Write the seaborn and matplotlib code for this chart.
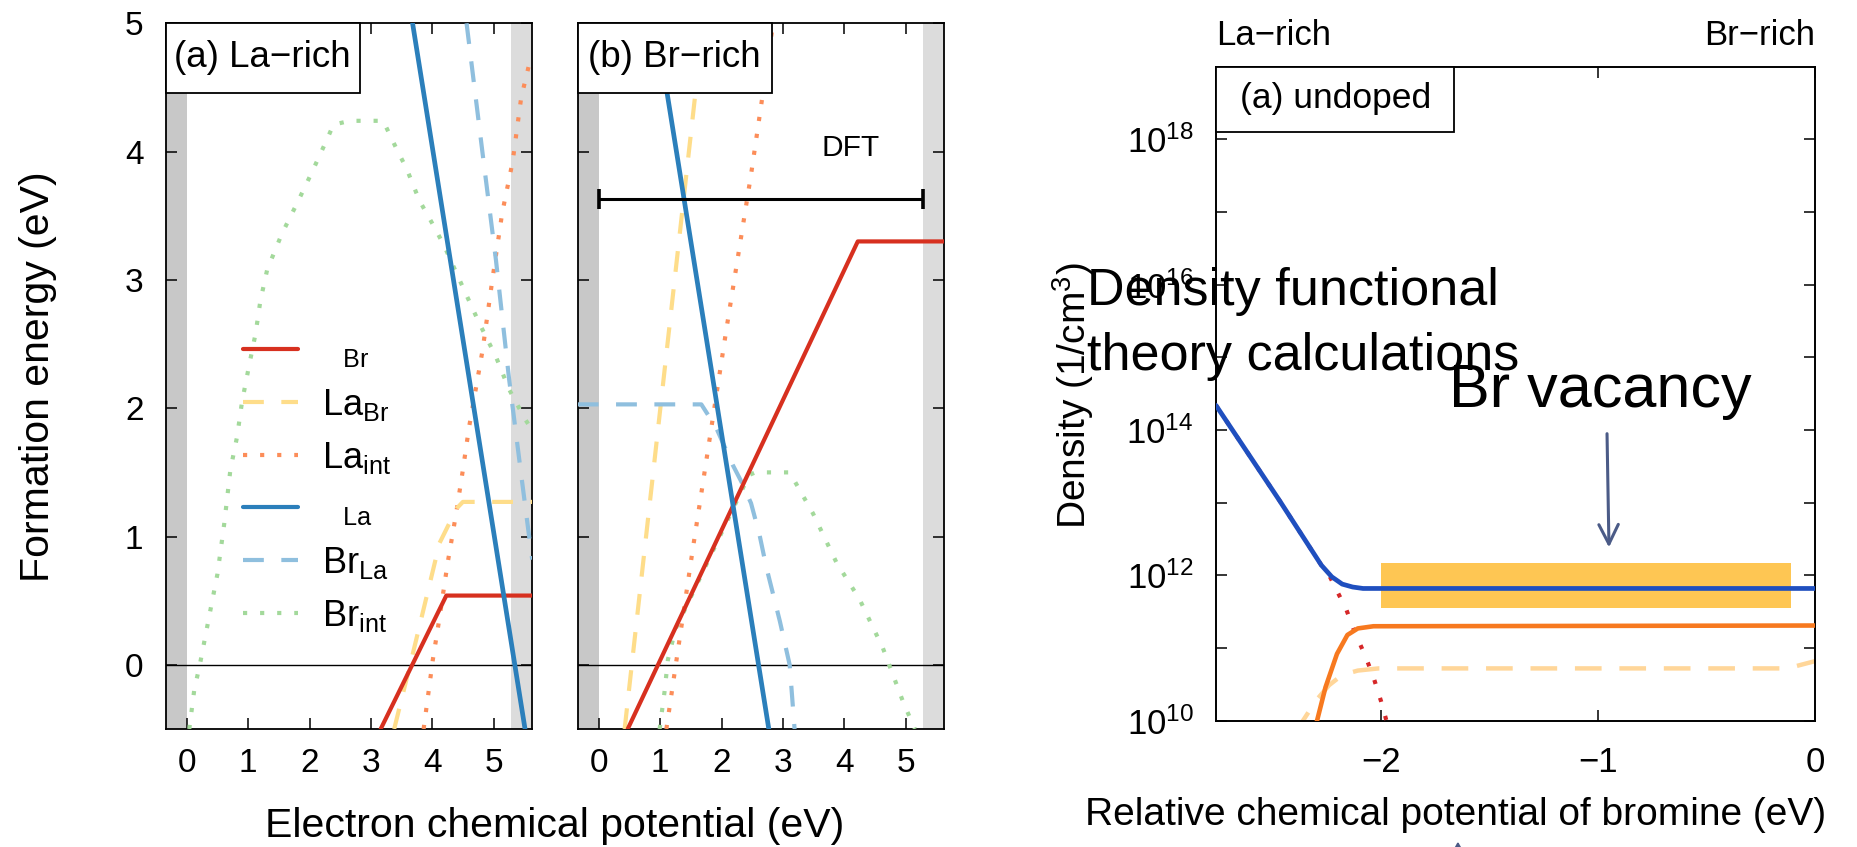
import numpy as np
import matplotlib
matplotlib.use("Agg")
import matplotlib.pyplot as plt
import seaborn as sns
from matplotlib.lines import Line2D
from matplotlib.patches import Rectangle
from matplotlib.ticker import FixedLocator, FixedFormatter, NullFormatter

# ---------------- data ----------------
# formation-energy panels (eV vs electron chemical potential, eV)
e_gap = 5.28
e_xlim = (-0.345, 5.63)
e_ylim = (-0.5, 5.0)
e_ticks = [0, 1, 2, 3, 4, 5]
dft_y = 3.63

# (a) La-rich
a_vbr_x = [3.16, 4.23, 5.63]
a_vbr_y = [-0.5, 0.54, 0.54]
a_labr_x = [3.38, 3.66, 4.12, 4.40, 4.50, 5.63]
a_labr_y = [-0.5, 0.04, 0.95, 1.22, 1.27, 1.27]
a_laint_x = [3.86, 4.01, 4.12, 4.25, 4.39, 4.50, 4.60, 4.82, 4.98, 5.14, 5.31, 5.45, 5.60]
a_laint_y = [-0.5, 0.04, 0.37, 0.79, 1.18, 1.52, 1.85, 2.45, 3.0, 3.52, 3.92, 4.42, 4.72]
a_vla_x = [3.68, 5.513]
a_vla_y = [5.0, -0.5]
a_brla_x = [4.56, 4.82, 5.04, 5.25, 5.44, 5.58, 5.63]
a_brla_y = [5.0, 3.99, 3.15, 2.24, 1.52, 1.0, 0.82]
a_brint_x = [0.04, 0.12, 0.22, 0.39, 0.50, 0.61, 0.71, 0.82, 0.90, 1.01, 1.12, 1.20, 1.31,
             1.55, 1.80, 2.04, 2.28, 2.39, 2.66, 3.20, 3.44, 3.58, 3.79, 4.06, 4.20, 4.55,
             4.77, 5.04, 5.25, 5.52, 5.63]
a_brint_y = [-0.5, -0.2, 0.02, 0.44, 0.71, 1.10, 1.52, 1.78, 2.05, 2.32, 2.58, 2.84, 3.08,
             3.36, 3.60, 3.84, 4.09, 4.21, 4.24, 4.24, 4.0, 3.87, 3.62, 3.39, 3.26, 2.89,
             2.66, 2.40, 2.15, 1.91, 1.83]

# (b) Br-rich
b_vbr_x = [0.47, 4.22, 5.63]
b_vbr_y = [-0.5, 3.30, 3.30]
b_labr_x = [0.42, 1.70]
b_labr_y = [-0.5, 5.0]
b_laint_x = [1.10, 1.53, 2.08, 2.48, 2.84]
b_laint_y = [-0.5, 0.90, 2.62, 3.82, 5.0]
b_vla_x = [0.93, 2.77]
b_vla_y = [5.0, -0.5]
b_brla_x = [-0.345, 1.67, 1.91, 2.18, 2.32, 2.48, 2.62, 2.73, 2.95, 3.11, 3.19]
b_brla_y = [2.03, 2.03, 1.85, 1.56, 1.43, 1.26, 1.01, 0.76, 0.34, 0.0, -0.5]
b_brint_x = [0.99, 1.07, 1.125, 1.25, 2.45, 2.55, 3.11, 3.49, 3.87, 4.25, 4.63, 4.96, 5.15]
b_brint_y = [-0.5, -0.21, 0.04, 0.28, 1.48, 1.50, 1.50, 1.18, 0.80, 0.51, 0.13, -0.29, -0.5]

# (c) density vs relative chemical potential of bromine (log10 of 1/cm^3)
c_xlim = (-2.762, 0.0)
c_xticks = [-2, -1, 0]
c_exp_major = [10, 12, 14, 16, 18]
c_exp_minor = [11, 13, 15, 17]
c_exp_lim = (10, 19)
c_blue_x = [-2.762, -2.469, -2.276, -2.228, -2.18, -2.132, -2.084, -2.0, 0.0]
c_blue_log = [14.34, 13.03, 12.14, 11.98, 11.88, 11.84, 11.82, 11.82, 11.82]
c_red_x = [-2.762, -2.469, -2.276, -2.257, -2.228, -2.161, -2.125, -2.072, -2.036, -2.0, -1.976, -1.95]
c_red_log = [14.34, 13.03, 12.14, 12.10, 11.93, 11.53, 11.24, 10.88, 10.60, 10.26, 10.0, 9.7]
c_orange_x = [-2.33, -2.296, -2.257, -2.204, -2.156, -2.108, -2.036, 0.0]
c_orange_log = [9.7, 10.0, 10.46, 10.92, 11.18, 11.27, 11.30, 11.31]
c_yellow_x = [-2.40, -2.361, -2.300, -2.240, -2.180, -2.108, -2.012, -0.161, -0.089, 0.0]
c_yellow_log = [9.8, 10.0, 10.28, 10.49, 10.63, 10.69, 10.72, 10.72, 10.75, 10.82]
c_band_x = [-2.0, -0.113]
c_band_log = (11.55, 12.17)
c_arrow_x = (-0.959, -0.950)
c_arrow_log = (13.95, 12.385)

# ---------------- style ----------------
sns.set_theme(style="ticks")
plt.rcParams["font.family"] = ["Liberation Sans", "DejaVu Sans"]
plt.rcParams["mathtext.fontset"] = "custom"
plt.rcParams["mathtext.rm"] = "Liberation Sans"
plt.rcParams["mathtext.it"] = "Liberation Sans:italic"
plt.rcParams["mathtext.bf"] = "Liberation Sans:bold"
plt.rcParams["axes.unicode_minus"] = True
plt.rcParams["text.color"] = "black"
plt.rcParams["axes.labelcolor"] = "black"

RED = "#d7301f"
YEL = "#fedd8a"
ORA = "#fc8d59"
BLU = "#2b7fbb"
LBL = "#8fbfde"
GRN = "#a3d99b"
DASH = (0, (5.0, 4.2))
DOT = (0, (1.0, 3.1))
LW = 3.0

fig = plt.figure(figsize=(18.57, 8.47), dpi=100)
axA = fig.add_axes([0.0892, 0.1393, 0.1974, 0.8332])
axB = fig.add_axes([0.3111, 0.1393, 0.1974, 0.8332])
axC = fig.add_axes([0.6548, 0.1491, 0.3226, 0.7721])


def line(ax, x, y, color, ls, lw=LW, z=3):
    sns.lineplot(x=x, y=y, ax=ax, color=color, linestyle=ls, linewidth=lw,
                 sort=False, estimator=None, legend=False, zorder=z)


def corner_box(ax, w, text, fs):
    ax.add_patch(Rectangle((0, 0.9008), w, 0.0992, transform=ax.transAxes,
                           facecolor="white", edgecolor="black", lw=1.3,
                           zorder=10, clip_on=False))
    ax.text(w / 2, 0.951, text, transform=ax.transAxes, ha="center",
            va="center", fontsize=fs, zorder=11)


panels = [
    (axA, (a_vbr_x, a_vbr_y), (a_labr_x, a_labr_y), (a_laint_x, a_laint_y),
     (a_vla_x, a_vla_y), (a_brla_x, a_brla_y), (a_brint_x, a_brint_y), "(a) La\u2212rich"),
    (axB, (b_vbr_x, b_vbr_y), (b_labr_x, b_labr_y), (b_laint_x, b_laint_y),
     (b_vla_x, b_vla_y), (b_brla_x, b_brla_y), (b_brint_x, b_brint_y), "(b) Br\u2212rich"),
]
for ax, vbr, labr, laint, vla, brla, brint, title in panels:
    ax.axvspan(e_xlim[0], 0, color="#c8c8c8", lw=0, zorder=0)
    ax.axvspan(e_gap, e_xlim[1], color="#dcdcdc", lw=0, zorder=0)
    ax.axhline(0, color="black", lw=1.0, zorder=2)
    line(ax, *brint, GRN, DOT)
    line(ax, *laint, ORA, DOT)
    line(ax, *labr, YEL, DASH)
    line(ax, *brla, LBL, DASH)
    line(ax, *vbr, RED, "-", z=4)
    line(ax, *vla, BLU, "-", lw=3.4, z=4)
    ax.set_xlim(*e_xlim)
    ax.set_ylim(*e_ylim)
    ax.set_xticks(e_ticks)
    ax.set_yticks(e_ticks)
    ax.set_xlabel("")
    ax.set_ylabel("")
    ax.tick_params(direction="in", length=8, width=1.1, color="black",
                   top=True, right=True, labelsize=24, labelcolor="black")
    ax.tick_params(axis="x", pad=14)
    ax.tick_params(axis="y", pad=16)
    for s in ax.spines.values():
        s.set_color("black")
        s.set_linewidth(1.3)
    corner_box(ax, 0.529, title, 26.5)

axB.tick_params(labelleft=False)

# DFT gap bar
axB.errorbar([e_gap / 2], [dft_y], xerr=[e_gap / 2], color="black", lw=2.2,
             capsize=7, capthick=2.6, zorder=6)
axB.text(4.11, 4.03, "DFT", ha="center", va="center", fontsize=21.5, zorder=6)

# legend in panel (a)
handles = [
    Line2D([], [], color=RED, lw=LW, ls="-"),
    Line2D([], [], color=YEL, lw=LW, ls=DASH),
    Line2D([], [], color=ORA, lw=LW, ls=DOT),
    Line2D([], [], color=BLU, lw=LW, ls="-"),
    Line2D([], [], color=LBL, lw=LW, ls=DASH),
    Line2D([], [], color=GRN, lw=LW, ls=DOT),
]
labels = [r"$\hspace{0.67}{}_{\mathrm{Br}}$", r"$\mathrm{La}_{\mathrm{Br}}$",
          r"$\mathrm{La}_{\mathrm{int}}$", r"$\hspace{0.67}{}_{\mathrm{La}}$",
          r"$\mathrm{Br}_{\mathrm{La}}$", r"$\mathrm{Br}_{\mathrm{int}}$"]
axA.legend(handles, labels, loc="center left", bbox_to_anchor=(0.2117, 0.3468),
           frameon=False, borderpad=0, borderaxespad=0, handlelength=1.52,
           handletextpad=0.67, labelspacing=0.47, fontsize=26)

fig.text(0.0205, 0.5555, "Formation energy (eV)", rotation=90, ha="center",
         va="center", fontsize=29.5)
fig.text(0.2988, 1 - 837 / 847, "Electron chemical potential (eV)", ha="center",
         va="baseline", fontsize=29.5)

# ---------------- panel (c) ----------------
axC.set_yscale("log")
axC.fill_between(c_band_x, 10 ** c_band_log[0], 10 ** c_band_log[1],
                 color="#fec653", lw=0, zorder=1)
line(axC, c_yellow_x, list(10 ** np.array(c_yellow_log)), "#ffd699", (0, (6, 4)), lw=3.2, z=2)
line(axC, c_red_x, list(10 ** np.array(c_red_log)), "#d62728", (0, (1.0, 3.5)), lw=3.0, z=3)
line(axC, c_orange_x, list(10 ** np.array(c_orange_log)), "#f7791f", "-", lw=3.3, z=3)
line(axC, c_blue_x, list(10 ** np.array(c_blue_log)), "#1f4fbf", "-", lw=3.4, z=4)
axC.set_xlim(*c_xlim)
axC.set_ylim(10 ** c_exp_lim[0], 10 ** c_exp_lim[1])
axC.set_xticks(c_xticks)
axC.yaxis.set_major_locator(FixedLocator([10.0 ** e for e in c_exp_major]))
axC.yaxis.set_major_formatter(FixedFormatter([f"$10^{{{e}}}$" for e in c_exp_major]))
axC.yaxis.set_minor_locator(FixedLocator([10.0 ** e for e in c_exp_minor]))
axC.yaxis.set_minor_formatter(NullFormatter())
axC.set_xlabel("")
axC.set_ylabel("")
axC.tick_params(which="both", direction="in", length=8, width=1.1, color="black",
                top=True, right=True, labelsize=25, labelcolor="black")
axC.tick_params(axis="x", pad=18)
axC.tick_params(axis="y", pad=16)
for s in axC.spines.values():
    s.set_color("black")
    s.set_linewidth(1.4)
corner_box(axC, 0.398, "(a) undoped", 25.5)

axC.annotate("", xy=(c_arrow_x[1], 10 ** c_arrow_log[1]),
             xytext=(c_arrow_x[0], 10 ** c_arrow_log[0]),
             arrowprops=dict(arrowstyle="->,head_length=0.7,head_width=0.35",
                             color="#4b5b87", lw=2.2, mutation_scale=20,
                             shrinkA=0, shrinkB=0), zorder=8)

fig.text(0.6548, 1 - 45 / 847, "La\u2212rich", ha="left", va="baseline", fontsize=25)
fig.text(0.9774, 1 - 45 / 847, "Br\u2212rich", ha="right", va="baseline", fontsize=25)
fig.text(0.578, 0.5325, "Density (1/cm$^3$)", rotation=90, ha="center",
         va="center", fontsize=28)
fig.text(0.7838, 1 - 825 / 847, "Relative chemical potential of bromine (eV)",
         ha="center", va="baseline", fontsize=28)

fig.text(1087 / 1857, 1 - 305 / 847, "Density functional", ha="left",
         va="baseline", fontsize=37.5, zorder=20)
fig.text(1087 / 1857, 1 - 370 / 847, "theory calculations", ha="left",
         va="baseline", fontsize=37.5, zorder=20)
fig.text(1449 / 1857, 1 - 406.7 / 847, "Br vacancy", ha="left",
         va="baseline", fontsize=44, zorder=20)

fig.patches.append(matplotlib.patches.FancyArrowPatch(
    (0.7851, -0.03), (0.7851, 0.0063), transform=fig.transFigure,
    arrowstyle="-|>,head_length=0.35,head_width=0.2", mutation_scale=15,
    color="#4b5b87", lw=1.5, shrinkA=0, shrinkB=0))

fig.savefig("out.png", dpi=100)
